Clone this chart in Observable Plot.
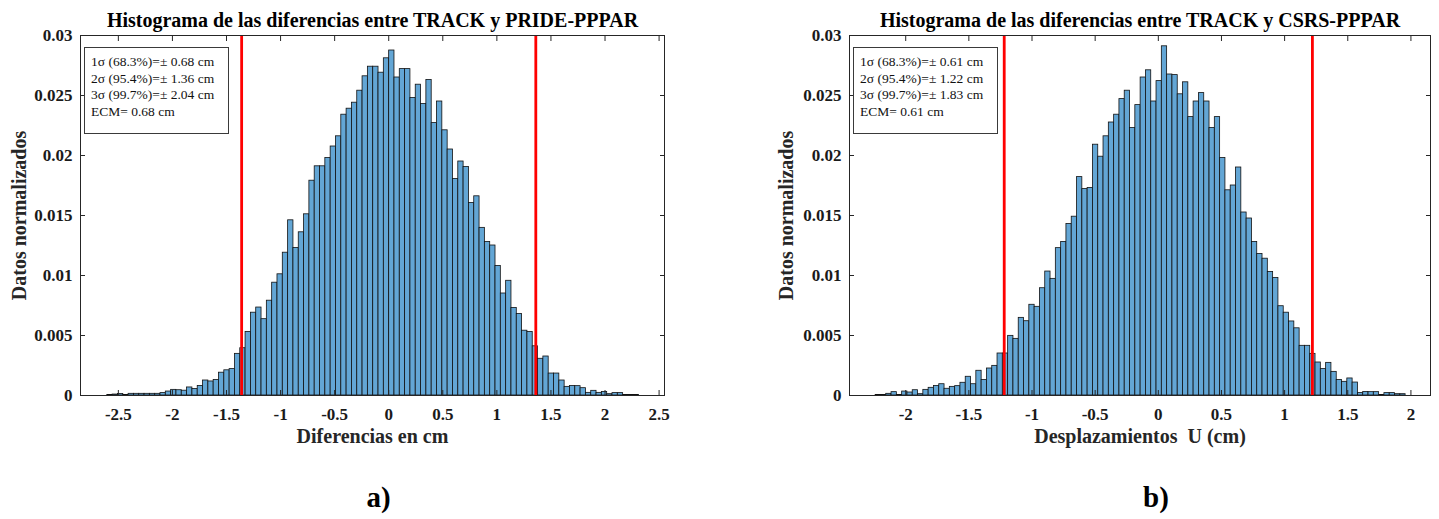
<!DOCTYPE html>
<html>
<head>
<meta charset="utf-8">
<script src="https://cdn.jsdelivr.net/npm/d3@7"></script>
<script src="https://cdn.jsdelivr.net/npm/@observablehq/plot@0.6"></script>
<style>
  html, body { margin: 0; padding: 0; background: #fff; }
  #page { position: relative; width: 1439px; height: 519px; overflow: hidden; font-family: "Liberation Serif", "Times New Roman", serif; }
  .panel { position: absolute; top: 0; }
  .panel svg { font-weight: bold; overflow: visible; }
  .panel svg text { white-space: pre; }
  .legend { position: absolute; box-sizing: border-box; border: 1px solid #3a3a3a; background: #fff;
            font-family: "Liberation Serif", serif; font-size: 13.5px; line-height: 16.7px; padding: 6px 0 0 6px; color: #111; white-space: nowrap; }
</style>
</head>
<body>
<div id="page"></div>
<script>
// ---------- data ----------
const leftTitle = "Histograma de las diferencias entre TRACK y PRIDE-PPPAR";
const rightTitle = "Histograma de las diferencias entre TRACK y CSRS-PPPAR";
const leftXLabel = "Diferencias en cm";
const rightXLabel = "Desplazamientos  U (cm)";
const yLabel = "Datos normalizados";
const panelLetters = ["a)", "b)"];

const leftXTicks = [-2.5, -2, -1.5, -1, -0.5, 0, 0.5, 1, 1.5, 2, 2.5];
const rightXTicks = [-2, -1.5, -1, -0.5, 0, 0.5, 1, 1.5, 2];
const yTicks = [0, 0.005, 0.01, 0.015, 0.02, 0.025, 0.03];

// sigma levels [1σ, 2σ, 3σ] and ECM (cm)
const leftSigma = [0.68, 1.36, 2.04];
const leftEcm = 0.68;
const rightSigma = [0.61, 1.22, 1.83];
const rightEcm = 0.61;
const sigmaPct = ["68.3", "95.4", "99.7"];

// histogram bins (100 bins each): first edge and bin width (cm)
const leftBinStart = -2.602;
const leftBinWidth = 0.04917;
const rightBinStart = -2.238;
const rightBinWidth = 0.04196;

// normalized heights
const leftValues = [
  0.00005,0.00008,0.00012,0.00005,0.00014,0.00014,0.00014,0.00014,0.00014,0.00014,
  0.00020,0.00033,0.00047,0.00044,0.00040,0.00067,0.00055,0.00080,0.00125,0.00117,
  0.00130,0.00190,0.00210,0.00220,0.00347,0.00394,0.00530,0.00690,0.00733,0.00636,
  0.00790,0.00940,0.01010,0.01190,0.01460,0.01230,0.01360,0.01510,0.01790,0.01910,
  0.01910,0.01980,0.02075,0.02160,0.02340,0.02390,0.02440,0.02540,0.02660,0.02740,
  0.02740,0.02690,0.02810,0.02875,0.02650,0.02720,0.02720,0.02480,0.02590,0.02430,
  0.02630,0.02270,0.02450,0.02210,0.02050,0.01805,0.01950,0.01905,0.01605,0.01660,
  0.01397,0.01280,0.01250,0.01080,0.00850,0.00956,0.00730,0.00680,0.00540,0.00530,
  0.00410,0.00306,0.00325,0.00183,0.00183,0.00125,0.00072,0.00080,0.00078,0.00061,
  0.00022,0.00039,0.00022,0.00030,0.00011,0.00020,0.00020,0.00005,0.00005,0.00005
];
const rightValues = [
  0.00005,0.00005,0.00014,0.00028,0.00005,0.00033,0.00025,0.00044,0.00011,0.00047,
  0.00064,0.00080,0.00094,0.00056,0.00072,0.00078,0.00106,0.00156,0.00094,0.00206,
  0.00130,0.00225,0.00247,0.00350,0.00350,0.00497,0.00472,0.00647,0.00619,0.00756,
  0.00739,0.00894,0.01033,0.00972,0.01228,0.01280,0.01430,0.01490,0.01820,0.01720,
  0.01730,0.02090,0.01990,0.02160,0.02275,0.02340,0.02470,0.02540,0.02230,0.02420,
  0.02650,0.02710,0.02450,0.02620,0.02910,0.02675,0.02670,0.02510,0.02610,0.02320,
  0.02450,0.02520,0.02450,0.02230,0.02320,0.01980,0.01710,0.01750,0.01900,0.01525,
  0.01475,0.01280,0.01180,0.01140,0.01030,0.00980,0.00744,0.00690,0.00617,0.00560,
  0.00414,0.00414,0.00347,0.00275,0.00220,0.00272,0.00197,0.00130,0.00114,0.00142,
  0.00108,0.00020,0.00030,0.00028,0.00028,0.00005,0.00020,0.00020,0.00011,0.00011
];

// ---------- build ----------
const binsOf = (values, start, w) => values.map((v, i) => ({x1: start + i * w, x2: start + (i + 1) * w, y: v}));
const fmt = d => String(d);
const barFill = "rgb(99,166,213)";
const axisColor = "#262626";

function makePanel(cfg) {
  const bins = binsOf(cfg.values, cfg.binStart, cfg.binWidth);
  const redLines = [-cfg.sigma[1], cfg.sigma[1]];
  return Plot.plot({
    width: cfg.width, height: 519,
    marginLeft: cfg.marginLeft, marginRight: cfg.marginRight, marginTop: 35, marginBottom: 124,
    x: {domain: cfg.domain},
    y: {domain: [0, 0.03]},
    style: {fontFamily: "Liberation Serif, Times New Roman, serif", background: "transparent", color: "#1a1a1a", overflow: "visible"},
    marks: [
      Plot.rectY(bins, {x1: "x1", x2: "x2", y: "y", fill: barFill, stroke: "#111", strokeWidth: 0.8, inset: 0}),
      Plot.ruleX(redLines, {stroke: "#ff0000", strokeWidth: 2.8}),
      Plot.frame({stroke: axisColor, strokeWidth: 1}),
      Plot.axisX({anchor: "bottom", ticks: cfg.xTicks, tickSize: -5, tickPadding: 17, tickFormat: fmt, fontSize: 17, fontWeight: "bold", label: null, stroke: axisColor}),
      Plot.axisX({anchor: "top", ticks: cfg.xTicks, tickSize: -5, tickFormat: () => "", label: null, stroke: axisColor}),
      Plot.axisY({anchor: "left", ticks: yTicks, tickSize: -5, tickPadding: 13, tickFormat: fmt, fontSize: 17, fontWeight: "bold", label: null, stroke: axisColor}),
      Plot.axisY({anchor: "right", ticks: yTicks, tickSize: -5, tickFormat: () => "", label: null, stroke: axisColor}),
      Plot.text([cfg.title], {text: d => d, frameAnchor: "top", dy: -23, fontSize: 20, fontWeight: "bold", fill: "#000"}),
      Plot.text([cfg.xLabel], {text: d => d, frameAnchor: "bottom", dy: 47, fontSize: 20, fontWeight: "bold", fill: "#262626"}),
      Plot.text([yLabel], {text: d => d, frameAnchor: "left", textAnchor: "middle", dx: cfg.yLabelDx, rotate: -90, fontSize: 20, fontWeight: "bold", fill: "#262626"}),
      Plot.text([cfg.letter], {text: d => d, frameAnchor: "bottom", dx: cfg.letterDx, dy: 111, fontSize: 29, fontWeight: "bold", fill: "#000"})
    ]
  });
}

const page = document.getElementById("page");
function addPanel(left, svg) {
  const d = document.createElement("div");
  d.className = "panel";
  d.style.left = left + "px";
  d.appendChild(svg);
  page.appendChild(d);
}
function addLegend(left, sigma, ecm) {
  const d = document.createElement("div");
  d.className = "legend";
  d.style.left = left + "px";
  d.style.top = "47px";
  d.style.width = "145px";
  d.style.height = "87px";
  const lines = sigma.map((s, i) => `${i + 1}σ (${sigmaPct[i]}%)=± ${s.toFixed(2)} cm`);
  lines.push(`ECM= ${ecm.toFixed(2)} cm`);
  lines.forEach(t => { const l = document.createElement("div"); l.textContent = t; d.appendChild(l); });
  page.appendChild(d);
}

addPanel(0, makePanel({
  values: leftValues, binStart: leftBinStart, binWidth: leftBinWidth, sigma: leftSigma,
  width: 700, marginLeft: 80, marginRight: 36, domain: [-2.85, 2.55], xTicks: leftXTicks,
  title: leftTitle, xLabel: leftXLabel, yLabelDx: -61, letter: panelLetters[0], letterDx: 6
}));
addPanel(770, makePanel({
  values: rightValues, binStart: rightBinStart, binWidth: rightBinWidth, sigma: rightSigma,
  width: 669, marginLeft: 79, marginRight: 9, domain: [-2.445, 2.155], xTicks: rightXTicks,
  title: rightTitle, xLabel: rightXLabel, yLabelDx: -63, letter: panelLetters[1], letterDx: 16
}));
addLegend(84, leftSigma, leftEcm);
addLegend(853, rightSigma, rightEcm);
</script>
</body>
</html>
